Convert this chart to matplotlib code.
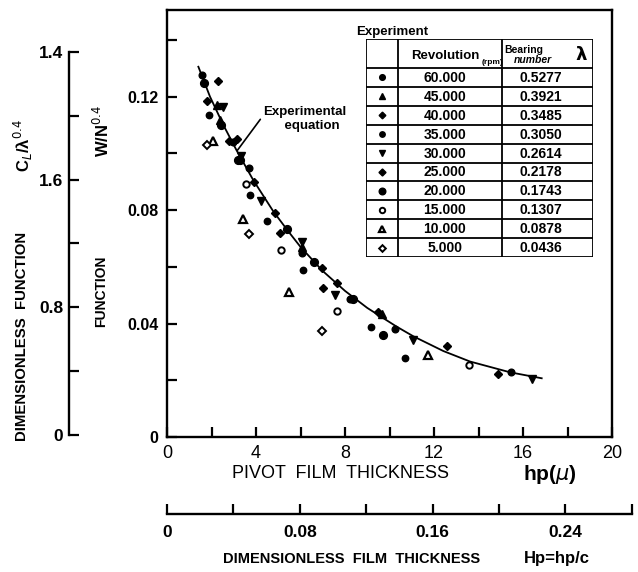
import matplotlib
matplotlib.use('Agg')
import matplotlib.pyplot as plt
from matplotlib.ticker import MultipleLocator, FixedLocator

# ---------------- data ----------------
speeds = ['60.000', '45.000', '40.000', '35.000', '30.000',
          '25.000', '20.000', '15.000', '10.000', '5.000']
bearing_numbers = ['0.5277', '0.3921', '0.3485', '0.3050', '0.2614',
                   '0.2178', '0.1743', '0.1307', '0.0878', '0.0436']

hp_60 = [1.56, 2.95, 3.69, 6.05, 8.22, 10.25, 15.45]
f_60 = [0.1275, 0.1039, 0.0948, 0.0650, 0.0488, 0.0381, 0.0228]
hp_45 = [2.25, 2.38, 6.08, 9.65]
f_45 = [0.1170, 0.1118, 0.0670, 0.0435]
hp_40 = [2.28, 3.13, 4.85, 7.63, 12.57]
f_40 = [0.1254, 0.1051, 0.0789, 0.0544, 0.0320]
hp_35 = [1.90, 3.73, 4.48, 6.13, 9.17, 10.70]
f_35 = [0.1134, 0.0854, 0.0761, 0.0589, 0.0388, 0.0278]
hp_30 = [2.50, 3.33, 4.22, 6.08, 7.55, 11.07, 16.42]
f_30 = [0.1163, 0.0992, 0.0831, 0.0688, 0.0499, 0.0343, 0.0205]
hp_25 = [1.78, 2.80, 3.91, 5.08, 6.95, 7.00, 9.47, 14.89]
f_25 = [0.1185, 0.1045, 0.0898, 0.0718, 0.0594, 0.0525, 0.0440, 0.0222]
hp_20 = [1.68, 2.43, 3.18, 3.28, 5.38, 6.62, 8.37, 9.72]
f_20 = [0.1248, 0.1098, 0.0978, 0.0977, 0.0733, 0.0617, 0.0485, 0.0359]
hp_15 = [3.57, 5.12, 7.66, 13.59]
f_15 = [0.0892, 0.0658, 0.0444, 0.0255]
hp_10 = [2.08, 3.40, 5.50, 11.75]
f_10 = [0.1043, 0.0768, 0.0511, 0.0290]
hp_5 = [1.78, 3.70, 6.95]
f_5 = [0.1028, 0.0715, 0.0375]

curve_hp = [1.41, 1.93, 2.53, 3.13, 3.88, 4.78, 5.45, 6.0, 7.0, 8.0,
            9.0, 10.3, 11.07, 12.42, 13.62, 15.42, 16.84]
curve_f = [0.1305, 0.1200, 0.1100, 0.1010, 0.0905, 0.0795, 0.0725, 0.0670,
           0.0585, 0.0515, 0.0455, 0.0390, 0.0355, 0.0303, 0.0266, 0.0228, 0.0207]

x_ticks = [0, 4, 8, 12, 16, 20]
x_ticklabels = ['0', '4', '8', '12', '16', '20']
y_ticks = [0, 0.04, 0.08, 0.12]
y_ticklabels = ['0', '0.04', '0.08', '0.12']
cl_ticks = [0, 0.8, 1.6, 2.4]
cl_ticklabels = ['0', '0.8', '1.6', '1.4']
Hp_ticks = [0, 0.08, 0.16, 0.24]
Hp_ticklabels = ['0', '0.08', '0.16', '0.24']

series = [(hp_60, f_60), (hp_45, f_45), (hp_40, f_40), (hp_35, f_35),
          (hp_30, f_30), (hp_25, f_25), (hp_20, f_20), (hp_15, f_15),
          (hp_10, f_10), (hp_5, f_5)]

styles = [
    dict(marker='o', ms=4.8, mfc='k', mec='k'),
    dict(marker='^', ms=5.2, mfc='k', mec='k'),
    dict(marker='D', ms=4.0, mfc='k', mec='k'),
    dict(marker='o', ms=4.6, mfc='k', mec='k'),
    dict(marker='v', ms=5.4, mfc='k', mec='k'),
    dict(marker='D', ms=4.2, mfc='k', mec='k'),
    dict(marker='o', ms=5.6, mfc='k', mec='k'),
    dict(marker='o', ms=4.6, mfc='white', mec='k', mew=1.4),
    dict(marker='^', ms=5.2, mfc='white', mec='k', mew=1.6),
    dict(marker='D', ms=4.0, mfc='white', mec='k', mew=1.4),
]

SANS = ['Liberation Sans', 'DejaVu Sans']

W, H = 638, 572
fig = plt.figure(figsize=(W / 100, H / 100), dpi=100)
fig.patch.set_facecolor('white')


def fx(p):
    return p / W


def fy(p):
    return 1 - p / H


# ---------------- main axes ----------------
ax = fig.add_axes([fx(167), fy(437), fx(612) - fx(167), fy(10) - fy(437)])
ax.set_xlim(0, 20)
ax.set_ylim(0, 0.1505)
for s in ax.spines.values():
    s.set_linewidth(1.7)
ax.xaxis.set_major_locator(FixedLocator(x_ticks))
ax.set_xticklabels(x_ticklabels, fontfamily=SANS, fontsize=13)
ax.yaxis.set_major_locator(FixedLocator(y_ticks))
ax.set_yticklabels(y_ticklabels, fontfamily=SANS, fontsize=11.5, fontweight='bold')
ax.xaxis.set_minor_locator(MultipleLocator(2))
ax.yaxis.set_minor_locator(MultipleLocator(0.02))
ax.tick_params(which='both', direction='in', length=7, width=1.6,
               top=False, right=False)
ax.tick_params(axis='x', which='major', pad=6)
ax.tick_params(axis='y', which='major', pad=6)

ax.plot(curve_hp, curve_f, color='k', lw=1.3, zorder=2)
for (xs, ys), st in zip(series, styles):
    ax.plot(xs, ys, ls='none', zorder=3, **st)

ax.annotate('Experimental\n    equation', xy=(3.16, 0.1010), xycoords='data',
            xytext=(4.32, 0.1122), textcoords='data', ha='left', va='center',
            fontsize=9.5, fontweight='bold', fontfamily=SANS,
            multialignment='center',
            arrowprops=dict(arrowstyle='-', lw=1.2, color='k',
                            shrinkA=0, shrinkB=0, relpos=(0.0, 0.62)))

# ---------------- table ----------------
tax = fig.add_axes([fx(366), fy(257), fx(593) - fx(366), fy(39) - fy(257)])
tax.set_xlim(366, 593)
tax.set_ylim(257, 39)
tax.axis('off')
c0, c1, c2, c3 = 366, 398, 502, 593
top, hdr, bot = 39, 68, 257
rh = (bot - hdr) / len(speeds)
lw_t = 1.3
tax.plot([c0, c3, c3, c0, c0], [top, top, bot, bot, top], color='k', lw=lw_t)
tax.plot([c1, c1], [top, bot], color='k', lw=lw_t)
tax.plot([c2, c2], [top, bot], color='k', lw=lw_t)
for i in range(len(speeds)):
    yl = hdr + i * rh
    tax.plot([c0, c3], [yl, yl], color='k', lw=lw_t)
for i, (sp, lam, st) in enumerate(zip(speeds, bearing_numbers, styles)):
    yc = hdr + (i + 0.5) * rh
    st2 = dict(st)
    st2['ms'] = st['ms'] * 0.85
    tax.plot([(c0 + c1) / 2], [yc], ls='none', **st2)
    tax.text(445, yc + 0.5, sp, ha='center', va='center',
             fontsize=10, fontweight='bold', fontfamily=SANS)
    tax.text(541, yc + 0.5, lam, ha='center', va='center',
             fontsize=10, fontweight='bold', fontfamily=SANS)
tax.text(445, 56, 'Revolution', ha='center', va='center', fontsize=9.5,
         fontweight='bold', fontfamily=SANS)
tax.text(493, 62, '(rpm)', ha='center', va='center', fontsize=6,
         fontweight='bold', fontfamily=SANS)
tax.text(524, 50, 'Bearing', ha='center', va='center', fontsize=7.5,
         fontweight='bold', fontfamily=SANS)
tax.text(533, 60, 'number', ha='center', va='center', fontsize=7.5,
         fontweight='bold', fontstyle='italic', fontfamily=SANS)
tax.text(581, 55, 'λ', ha='center', va='center', fontsize=13,
         fontweight='bold', fontfamily=['DejaVu Sans'])
fig.text(fx(356), fy(32), 'Experiment', ha='left', va='center', fontsize=9.5,
         fontweight='bold', fontfamily=SANS)

# ---------------- left auxiliary axis ----------------
lax = fig.add_axes([fx(69), fy(435), 0.002, fy(52) - fy(435)])
lax.patch.set_visible(False)
for k in ['top', 'right', 'bottom']:
    lax.spines[k].set_visible(False)
lax.spines['left'].set_linewidth(1.7)
lax.set_ylim(0, 2.4)
lax.set_xticks([])
lax.yaxis.set_major_locator(FixedLocator(cl_ticks))
lax.set_yticklabels(cl_ticklabels, fontfamily=SANS, fontsize=12.5, fontweight='bold')
lax.yaxis.set_minor_locator(MultipleLocator(0.4))
lax.tick_params(which='both', direction='in', length=7, width=1.6)
lax.tick_params(axis='y', which='major', pad=4)

# ---------------- bottom auxiliary axis ----------------
bax = fig.add_axes([fx(167), fy(514), fx(632) - fx(167), 0.002])
bax.patch.set_visible(False)
for k in ['top', 'right', 'left']:
    bax.spines[k].set_visible(False)
bax.spines['bottom'].set_linewidth(1.7)
bax.set_xlim(0, 0.2801)
bax.set_yticks([])
bax.xaxis.set_major_locator(FixedLocator(Hp_ticks))
bax.set_xticklabels(Hp_ticklabels, fontfamily=SANS, fontsize=12.5, fontweight='bold')
bax.xaxis.set_minor_locator(MultipleLocator(0.04))
bax.tick_params(which='both', direction='in', length=7, width=1.6)
bax.tick_params(axis='x', which='major', pad=8)

# ---------------- axis titles ----------------
fig.text(fx(22), fy(336), 'DIMENSIONLESS  FUNCTION', rotation=90, ha='center',
         va='center', fontsize=10.8, fontweight='bold', fontfamily=SANS)
fig.text(fx(23), fy(146), r'C$_L$/λ$^{0.4}$', rotation=90, ha='center',
         va='center', fontsize=12, fontweight='bold', fontfamily=SANS)
fig.text(fx(102), fy(131), r'W/N$^{0.4}$', rotation=90, ha='center',
         va='center', fontsize=12, fontweight='bold', fontfamily=SANS)
fig.text(fx(101), fy(291), 'FUNCTION', rotation=90, ha='center',
         va='center', fontsize=10, fontweight='bold', fontfamily=SANS)
fig.text(fx(340), fy(474), 'PIVOT  FILM  THICKNESS', ha='center', va='center',
         fontsize=13, fontfamily=SANS)
fig.text(fx(550), fy(474), r'hp($\mu$)', ha='center', va='center',
         fontsize=15, fontweight='bold', fontfamily=SANS)
fig.text(fx(352), fy(559), 'DIMENSIONLESS  FILM  THICKNESS', ha='center',
         va='center', fontsize=10.5, fontweight='bold', fontfamily=SANS)
fig.text(fx(557), fy(559), 'Hp=hp/c', ha='center', va='center',
         fontsize=12, fontweight='bold', fontfamily=SANS)

fig.savefig('out.png', dpi=100, facecolor='white')
